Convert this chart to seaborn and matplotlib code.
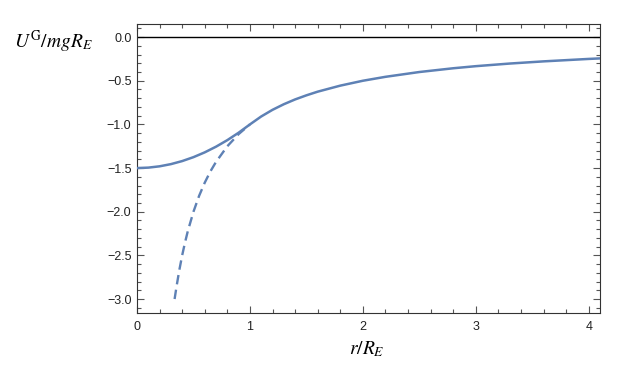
import numpy as np
import pandas as pd
import matplotlib
matplotlib.use("Agg")
import matplotlib.pyplot as plt
import seaborn as sns
from matplotlib.ticker import MultipleLocator

# Solid curve
r_solid = [0.0, 0.1, 0.2, 0.3, 0.4, 0.5, 0.6, 0.7, 0.8, 0.9, 1.0,
           1.1, 1.2, 1.3, 1.4, 1.5, 1.6, 1.8, 2.0, 2.2, 2.5, 2.8, 3.0,
           3.3, 3.6, 4.0, 4.1]
u_solid = [-1.500, -1.495, -1.480, -1.455, -1.420, -1.375, -1.320, -1.255,
           -1.180, -1.095, -1.000,
           -0.909, -0.833, -0.769, -0.714, -0.667, -0.625, -0.556, -0.500,
           -0.455, -0.400, -0.357, -0.333, -0.303, -0.278, -0.250, -0.244]

# Dashed curve
r_dash = [0.333, 0.35, 0.375, 0.4, 0.425, 0.45, 0.5, 0.55, 0.6, 0.65,
          0.7, 0.8, 0.9, 1.0]
u_dash = [-3.000, -2.857, -2.667, -2.500, -2.353, -2.222, -2.000, -1.818,
          -1.667, -1.538, -1.429, -1.250, -1.111, -1.000]

x_ticks = [0, 1, 2, 3, 4]
y_ticks = [0.0, -0.5, -1.0, -1.5, -2.0, -2.5, -3.0]

sns.set_style("ticks")
plt.rcParams['font.family'] = ['Liberation Sans', 'DejaVu Sans']
plt.rcParams['mathtext.fontset'] = 'stix'

color = "#5E81B5"
fig = plt.figure(figsize=(6.33, 3.75), dpi=100)
ax = fig.add_axes([137/633, 1-313/375, (600-137)/633, (313-24)/375])

df_s = pd.DataFrame({"r": r_solid, "u": u_solid})
df_d = pd.DataFrame({"r": r_dash, "u": u_dash})

ax.axhline(0, color="black", lw=1.0, zorder=1)
sns.lineplot(data=df_d, x="r", y="u", ax=ax, color=color, lw=1.7,
             dashes=False, linestyle=(0, (4.0, 2.3)), sort=False, zorder=2)
sns.lineplot(data=df_s, x="r", y="u", ax=ax, color=color, lw=1.8,
             sort=False, zorder=3)

ax.set_xlim(0, 4.1)
ax.set_ylim(-3.16, 0.15)
ax.set_xticks(x_ticks)
ax.set_xticklabels([str(t) for t in x_ticks])
ax.set_yticks(y_ticks)
ax.set_yticklabels([f"{t:.1f}".replace("-", "\u2212") for t in y_ticks])
ax.xaxis.set_minor_locator(MultipleLocator(0.2))
ax.yaxis.set_minor_locator(MultipleLocator(0.1))
ax.tick_params(which="both", direction="in", top=True, right=True,
               color="#555555", width=0.8)
ax.tick_params(which="major", length=5, labelsize=9, labelcolor="#222222", pad=4)
ax.tick_params(axis="x", which="major", pad=6)
ax.tick_params(which="minor", length=3)
ax.set_xlabel("")
ax.set_ylabel("")
for s in ax.spines.values():
    s.set_color("#333333")
    s.set_linewidth(0.8)

fig.text(14/633, 1-42/375, r"$U^{\mathrm{G}}/mgR_{E}$", fontsize=14,
         ha="left", va="center", color="black")
fig.text(367/633, 1-349/375, r"$r/R_{E}$", fontsize=14,
         ha="center", va="center", color="black")

fig.savefig("out.png", dpi=100)
